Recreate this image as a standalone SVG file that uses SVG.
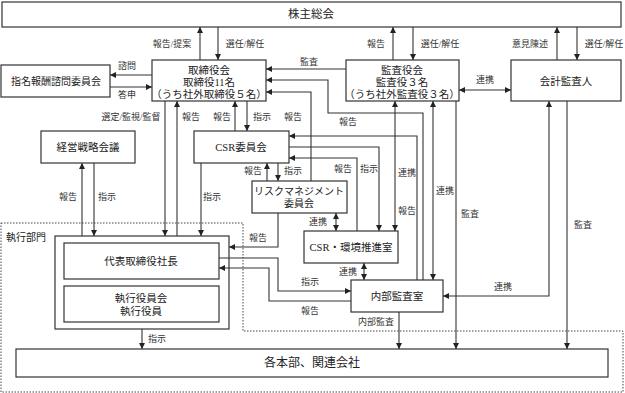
<svg xmlns="http://www.w3.org/2000/svg" width="625" height="393" viewBox="0 0 625 393">
<defs>
<marker id="ah" viewBox="0 0 8 8" refX="8" refY="4" markerWidth="6" markerHeight="6" markerUnits="userSpaceOnUse" orient="auto-start-reverse">
<path d="M0,0 L8,4 L0,8 z" fill="#222"/>
</marker>
<style>
.box{fill:#fff;stroke:#333;stroke-width:1.2}
.t{font-family:"Liberation Serif","Noto Sans CJK JP",serif;font-size:10.5px;fill:#222;text-anchor:middle;dominant-baseline:central}
.l{font-family:"Liberation Serif","Noto Sans CJK JP",serif;font-size:9px;fill:#333;text-anchor:middle;dominant-baseline:central}
.c{fill:none;stroke:#333;stroke-width:1.1}
.a{marker-end:url(#ah)}
.d{marker-start:url(#ah);marker-end:url(#ah)}
.dot{fill:none;stroke:#444;stroke-width:1;stroke-dasharray:1.5 1.5}
</style>
</defs>
<rect width="625" height="393" fill="#fff"/>

<polygon class="dot" points="1,223 243,223 243,331 623,331 623,392 1,392"/>
<text class="t" x="26" y="237" style="font-size:10px">執行部門</text>

<g id="connectors">
<path class="c a" d="M200,60 V27"/>
<path class="c a" d="M218,27 V60"/>
<path class="c a" d="M393,60 V27"/>
<path class="c a" d="M413,27 V60"/>
<path class="c a" d="M557,60 V27"/>
<path class="c a" d="M577,27 V60"/>
<path class="c a" d="M152,75 H110"/>
<path class="c a" d="M110,87 H152"/>
<path class="c a" d="M346,69 H266"/>
<path class="c a" d="M423,280 V113 H328 V80 H266"/>
<path class="c a" d="M311,181 V92 H266"/>
<path class="c d" d="M459,90 H511"/>
<path class="c a" d="M165,101 V236"/>
<path class="c a" d="M177,236 V101"/>
<path class="c a" d="M235,131 V101"/>
<path class="c a" d="M247,101 V131"/>
<path class="c a" d="M82,236 V163"/>
<path class="c a" d="M94,163 V236"/>
<path class="c a" d="M201,163 V236"/>
<path class="c a" d="M267,181 V163"/>
<path class="c a" d="M278,163 V181"/>
<path class="c a" d="M417,280 V136 H289"/>
<path class="c a" d="M289,147 H379 V231"/>
<path class="c a" d="M357,231 V158 H289"/>
<path class="c d" d="M395,101 V231"/>
<path class="c d" d="M433,101 V280"/>
<path class="c a" d="M456,101 V349"/>
<path class="c a" d="M567,101 V349"/>
<path class="c d" d="M549,101 V296 H443"/>
<path class="c a" d="M278,213 V247 H229"/>
<path class="c d" d="M336,213 V231"/>
<path class="c d" d="M364,263 V280"/>
<path class="c a" d="M219,258 H278 V291 H351"/>
<path class="c a" d="M351,301 H269 V268 H219"/>
<path class="c a" d="M399,312 V349"/>
<path class="c a" d="M142,329 V349"/>
</g>

<g id="labels">
<text class="l" x="172" y="44">報告/提案</text>
<text class="l" x="245" y="44">選任/解任</text>
<text class="l" x="376" y="44">報告</text>
<text class="l" x="440" y="44">選任/解任</text>
<text class="l" x="530" y="44">意見陳述</text>
<text class="l" x="604" y="44">選任/解任</text>
<text class="l" x="127" y="66">諮問</text>
<text class="l" x="127" y="95">答申</text>
<text class="l" x="309" y="62">監査</text>
<text class="l" x="485" y="80">連携</text>
<text class="l" x="131" y="117">選定/監視/監督</text>
<text class="l" x="191" y="117">報告</text>
<text class="l" x="222" y="117">報告</text>
<text class="l" x="262" y="117">指示</text>
<text class="l" x="293" y="117">報告</text>
<text class="l" x="348" y="122">報告</text>
<text class="l" x="68" y="197">報告</text>
<text class="l" x="107" y="197">指示</text>
<text class="l" x="212" y="197">指示</text>
<text class="l" x="253" y="171">報告</text>
<text class="l" x="293" y="171">指示</text>
<text class="l" x="343" y="169">報告</text>
<text class="l" x="369" y="169">指示</text>
<text class="l" x="407" y="173">連携</text>
<text class="l" x="407" y="211">報告</text>
<text class="l" x="445" y="191">連携</text>
<text class="l" x="470" y="214">監査</text>
<text class="l" x="583" y="225">監査</text>
<text class="l" x="258" y="238">報告</text>
<text class="l" x="318" y="222">連携</text>
<text class="l" x="348" y="272">連携</text>
<text class="l" x="310" y="282">指示</text>
<text class="l" x="310" y="311">報告</text>
<text class="l" x="503" y="287">連携</text>
<text class="l" x="376" y="322">内部監査</text>
<text class="l" x="157" y="339">指示</text>
</g>

<g id="n-shareholders">
<rect class="box" x="2" y="2" width="619" height="25"/>
<text class="t" x="311" y="14" style="font-size:11.5px">株主総会</text>
</g>
<g id="n-board">
<rect class="box" x="152" y="60" width="114" height="41"/>
<text class="t" x="209" y="70">取締役会</text>
<text class="t" x="209" y="82">取締役11名</text>
<text class="t" x="209" y="94">（うち社外取締役５名）</text>
</g>
<g id="n-nomination">
<rect class="box" x="1" y="65" width="109" height="32"/>
<text class="t" x="56" y="81" style="font-size:10px">指名報酬諮問委員会</text>
</g>
<g id="n-auditors">
<rect class="box" x="346" y="60" width="113" height="41"/>
<text class="t" x="402" y="70">監査役会</text>
<text class="t" x="402" y="82">監査役３名</text>
<text class="t" x="402" y="94">（うち社外監査役３名）</text>
</g>
<g id="n-accounting">
<rect class="box" x="511" y="60" width="110" height="41"/>
<text class="t" x="566" y="81">会計監査人</text>
</g>
<g id="n-strategy">
<rect class="box" x="41" y="131" width="94" height="32"/>
<text class="t" x="88" y="147">経営戦略会議</text>
</g>
<g id="n-csr">
<rect class="box" x="194" y="131" width="95" height="32"/>
<text class="t" x="241" y="147">CSR委員会</text>
</g>
<g id="n-risk">
<rect class="box" x="252" y="181" width="95" height="32"/>
<text class="t" x="299" y="191" style="font-size:10px">リスクマネジメント</text>
<text class="t" x="299" y="203" style="font-size:10px">委員会</text>
</g>
<g id="n-csr-office">
<rect class="box" x="304" y="231" width="94" height="32"/>
<text class="t" x="351" y="247">CSR・環境推進室</text>
</g>
<g id="n-internal-audit">
<rect class="box" x="351" y="280" width="92" height="32"/>
<text class="t" x="397" y="296">内部監査室</text>
</g>
<g id="n-executive">
<rect class="box" x="55" y="236" width="174" height="93" fill="none" style="fill:none"/>
</g>
<g id="n-president">
<rect class="box" x="64" y="243" width="155" height="36"/>
<text class="t" x="141" y="261">代表取締役社長</text>
</g>
<g id="n-officers">
<rect class="box" x="64" y="286" width="155" height="36"/>
<text class="t" x="141" y="298">執行役員会</text>
<text class="t" x="141" y="311">執行役員</text>
</g>
<g id="n-divisions">
<rect class="box" x="16" y="349" width="592" height="28"/>
<text class="t" x="312" y="363" style="font-size:12px">各本部、関連会社</text>
</g>
</svg>
